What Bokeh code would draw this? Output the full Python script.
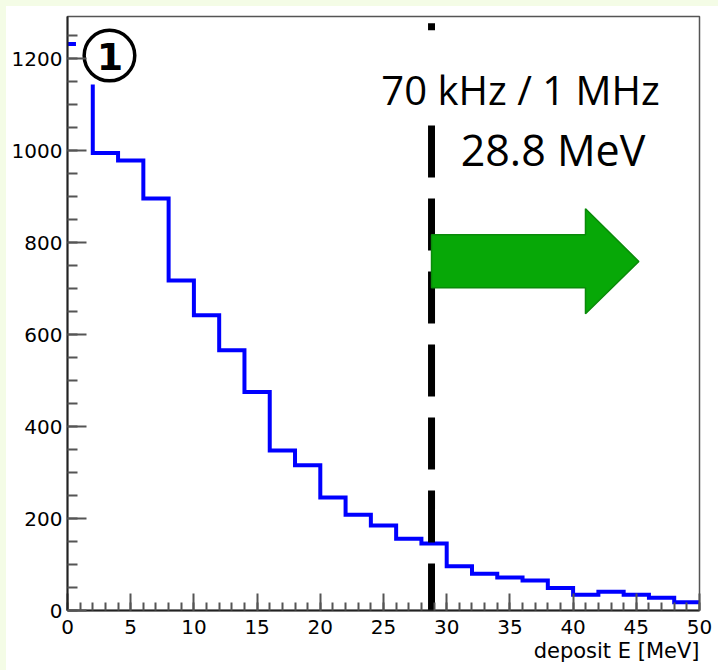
from bokeh.plotting import figure
from bokeh.models import (Range1d, SingleIntervalTicker, Label, Div, Title)
from bokeh.layouts import column, row
from bokeh.embed import file_html
from bokeh.resources import INLINE

# Energy deposit histogram, 2 MeV bins
bin_edges = [0, 2, 4, 6, 8, 10, 12, 14, 16, 18, 20, 22, 24, 26, 28, 30,
             32, 34, 36, 38, 40, 42, 44, 46, 48, 50]
counts = [1232, 995, 979, 896, 718, 642, 566, 475, 348, 316, 246, 208, 185,
          156, 146, 96, 80, 72, 65, 49, 34, 41, 34, 28, 18]

threshold_mev = 28.8
rate_text = "70 kHz / 1 MHz"
threshold_text = "28.8 MeV"
panel_number = "1"
x_title = "deposit E [MeV]"

BAND = "#F4FCE6"
AXIS_FONT = "DejaVu Sans"

p = figure(width=712, height=664, output_backend="svg", toolbar_location=None,
           x_range=Range1d(0, 50), y_range=Range1d(0, 1292),
           min_border_left=61, min_border_right=19,
           min_border_top=10, min_border_bottom=60)
p.background_fill_color = "white"
p.border_fill_color = "white"
p.outline_line_color = "#555555"
p.outline_line_width = 1.5
p.xgrid.visible = False
p.ygrid.visible = False

# ROOT-style axes: ticks drawn inward
p.xaxis.ticker = SingleIntervalTicker(interval=5, num_minor_ticks=5)
p.yaxis.ticker = SingleIntervalTicker(interval=200, num_minor_ticks=4)
for ax, maj, mnr in ((p.xaxis, 17, 8), (p.yaxis, 19, 10)):
    ax.major_tick_in = maj
    ax.major_tick_out = 0
    ax.minor_tick_in = mnr
    ax.minor_tick_out = 0
    ax.axis_line_width = 2
    ax.axis_line_color = "#222222"
    ax.major_tick_line_color = "#555555"
    ax.major_tick_line_width = 2
    ax.minor_tick_line_color = "#555555"
    ax.minor_tick_line_width = 2
    ax.major_label_text_font = AXIS_FONT
    ax.major_label_text_font_size = "20px"
    ax.major_label_text_color = "black"
p.xaxis.major_label_standoff = 9
p.yaxis.major_label_standoff = 5

# axis title, right-aligned under the tick labels
p.add_layout(Title(text=x_title, align="right", text_font=AXIS_FONT,
                   text_font_size="21px", text_font_style="normal",
                   text_color="black", standoff=0, offset=0), "below")

# histogram outline
step_x = bin_edges
step_y = counts + [counts[-1]]
p.step(step_x, step_y, mode="after", line_color="#0000FF", line_width=4,
       line_join="miter")

# threshold line
p.line([threshold_mev, threshold_mev], [-10.9, 1277.5], line_color="black",
       line_width=7, line_dash="52 21")

# white backing behind the rate text
p.quad(left=24.0, right=47.5, bottom=1070, top=1262, fill_color="white",
       line_color=None)

# green arrow pointing to the accepted region
arrow_x = [threshold_mev, 40.98, 40.98, 45.2, 40.98, 40.98, threshold_mev]
arrow_y = [817.2, 817.2, 873.7, 759.1, 645.4, 701.9, 701.9]
p.patch(arrow_x, arrow_y, fill_color="#07A807", line_color="#0A8A0A",
        line_width=1.5)

# panel marker
p.quad(left=0.67, right=5.8, bottom=1144, top=1283, fill_color="white",
       line_color=None)
p.circle([3.32], [1207], radius=25.3, radius_units="screen",
         fill_color="white", line_color="black", line_width=3.5)
p.add_layout(Label(x=3.36, y=1204, text=panel_number, text_font=AXIS_FONT,
                   text_font_style="bold", text_font_size="38px",
                   text_align="center", text_baseline="alphabetic",
                   text_color="black"))

p.add_layout(Label(x=35.84, y=1134, text=rate_text, text_font="Open Sans",
                   text_font_size="40px", text_align="center",
                   text_baseline="alphabetic", text_color="black"))
p.add_layout(Label(x=38.41, y=1002, text=threshold_text, text_font="Open Sans",
                   text_font_size="43px", text_align="center",
                   text_baseline="alphabetic", text_color="black"))

band_top = Div(width=718, height=6, margin=0,
               styles={"background-color": BAND})
band_left = Div(width=6, height=664, margin=0,
                styles={"background-color": BAND})
page = column(band_top, row(band_left, p, spacing=0), spacing=0)

open("out.html", "w").write(file_html(page, INLINE))
